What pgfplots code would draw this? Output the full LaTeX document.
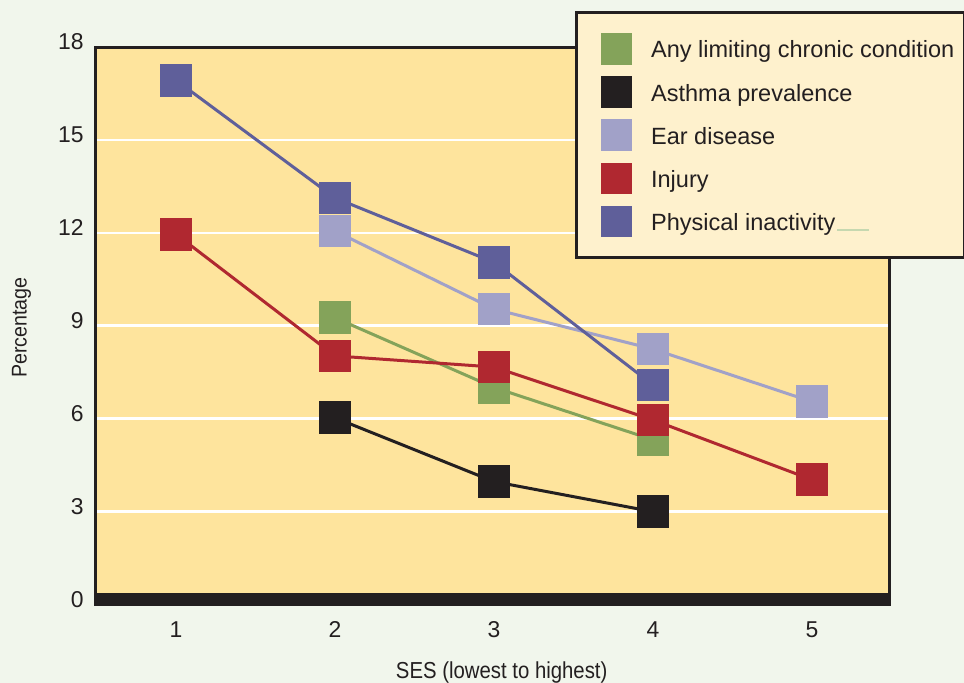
\documentclass[border=0pt]{standalone}
\usepackage{fontspec}
\setmainfont{Liberation Sans}
\newfontfamily\xlabfont[FakeStretch=0.88]{Liberation Sans}
\newfontfamily\ylabfont[FakeStretch=0.92]{Liberation Sans}
\usepackage{pgfplots}
\pgfplotsset{compat=1.18}

\definecolor{bgc}{HTML}{F1F6EC}
\definecolor{plotyel}{HTML}{FEE49D}
\definecolor{legfill}{HTML}{FEF1CD}
\definecolor{dark}{HTML}{231F20}
\definecolor{cgreen}{HTML}{84A35A}
\definecolor{cblack}{HTML}{231F20}
\definecolor{cear}{HTML}{A1A1C8}
\definecolor{cred}{HTML}{B02830}
\definecolor{cpurple}{HTML}{5F5F9A}
\definecolor{artgreen}{HTML}{C6D8B0}

\begin{document}
\begin{tikzpicture}
\fill[bgc] (-95.8bp,-78.4bp) rectangle (868.2bp,604.6bp);
\begin{axis}[
  scale only axis,
  width=793.7bp, height=557.5bp,
  xmin=0.4956, xmax=5.487,
  ymin=0, ymax=18,
  xtick={1,2,3,4,5},
  ytick={0,3,6,9,12,15,18},
  major tick length=0pt,
  axis background/.style={fill=plotyel},
  axis line style={draw=dark, line width=3bp},
  ymajorgrids,
  grid style={white, line width=2.7bp},
  /pgf/number format/assume math mode=true,
  ticklabel style={font=\fontsize{23}{27}\selectfont, text=dark},
  yticklabel style={anchor=east, inner sep=0pt, xshift=-12bp, yshift=5bp},
  xticklabel style={anchor=north, inner sep=0pt, yshift=-17bp},
  xlabel={SES (lowest to highest)},
  xlabel style={at={(axis description cs:0.5114,-0.1322)}, anchor=base, inner sep=0pt,
    font=\xlabfont\fontsize{23.2}{28}\selectfont, text=dark},
  ylabel={Percentage},
  ylabel style={at={(axis description cs:-0.08706,0.497)}, anchor=base, inner sep=0pt,
    font=\ylabfont\fontsize{21.4}{26}\selectfont, text=dark},
  every axis plot/.append style={line width=3bp, mark=square*, mark size=15.85bp,
    mark options={solid, line width=0pt}},
  legend cell align=left,
  legend image code/.code={
    \path[draw=none, fill=none] (0bp,-16bp) (56.2bp,16bp);
    \fill[#1, draw=none] (24.3bp,-15.85bp) rectangle (56.2bp,15.85bp);
  },
  legend style={at={(rel axis cs:0.6034,1.0642)}, anchor=north west,
    draw=dark, line width=3bp, fill=legfill,
    inner xsep=0bp, inner ysep=20bp,
    row sep=11.2bp, column sep=8.7bp,
    font=\fontsize{23.6}{28}\selectfont, text=dark,
    nodes={inner xsep=10bp, inner ysep=0bp, text height=19bp, text depth=1bp}},
]
\fill[dark] ([xshift=-1.5bp]rel axis cs:0,0) rectangle ([xshift=1.5bp,yshift=11.7bp]rel axis cs:1,0);

\addplot[color=cgreen] coordinates {(2,9.26) (3,7.01) (4,5.32)};
\addlegendentry{Any limiting chronic condition}
\addplot[color=cblack] coordinates {(2,6.03) (3,3.97) (4,3.00)};
\addlegendentry{Asthma prevalence}
\addplot[color=cear] coordinates {(2,12.06) (3,9.54) (4,8.25) (5,6.55)};
\addlegendentry{Ear disease}
\addplot[color=cred] coordinates {(1,11.96) (2,8.03) (3,7.67) (4,5.96) (5,4.03)};
\addlegendentry{Injury}
\addplot[color=cpurple] coordinates {(1,16.93) (2,13.13) (3,11.05) (4,7.09)};
\addlegendentry{Physical inactivity\kern2bp\textcolor{artgreen}{\rule{32bp}{1.5bp}}}
\end{axis}
\pgfresetboundingbox
\useasboundingbox (-95.8bp,-78.4bp) rectangle (868.2bp,604.6bp);
\end{tikzpicture}
\end{document}
